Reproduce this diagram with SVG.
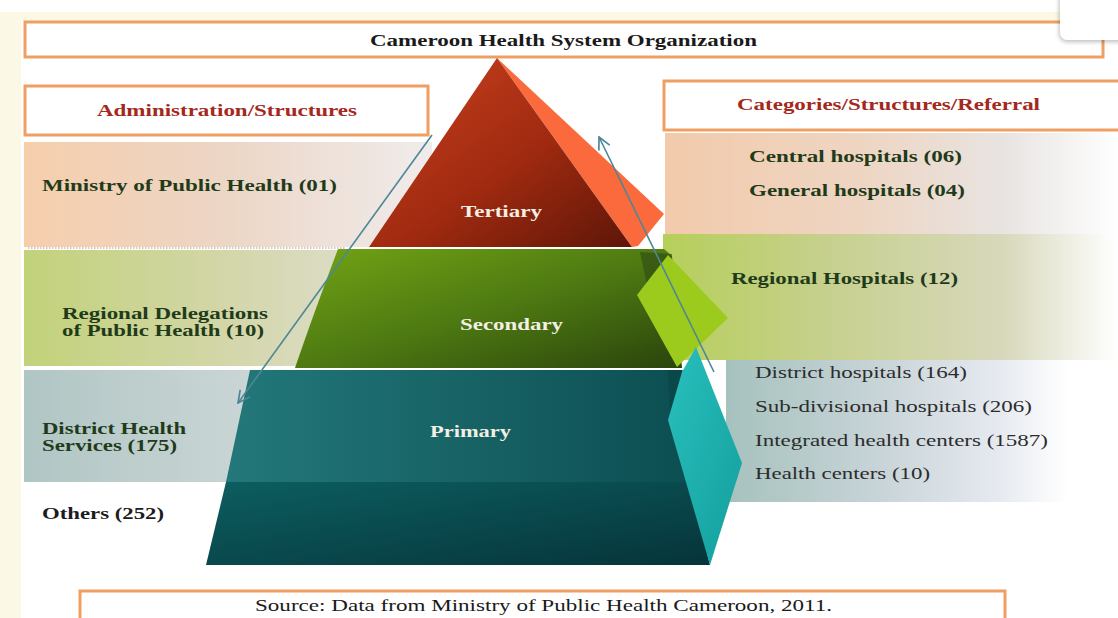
<svg xmlns="http://www.w3.org/2000/svg" width="1118" height="618" viewBox="0 0 1118 618">
  <style>
    .box { fill: #ffffff; stroke: #ef9f62; stroke-width: 3; }
    .hdr { font-family: "Liberation Serif", serif; font-weight: bold; font-size: 16px; }
    .red { fill: #a4281c; }
    .grn { fill: #1f3b1a; font-family: "Liberation Serif", serif; font-weight: bold; font-size: 16px; }
    .reg { fill: #2c2c2c; font-family: "Liberation Serif", serif; font-size: 16px; }
    .tier { fill: #f3efe2; font-family: "Liberation Serif", serif; font-weight: bold; font-size: 16px; }
    .arrow { fill: none; stroke: #4d8796; stroke-width: 1.6; }
  </style>
  <defs>
    <marker id="head" viewBox="0 0 12 12" refX="11" refY="6" markerWidth="9" markerHeight="9" markerUnits="strokeWidth" orient="auto">
      <path d="M1,1 L11,6 L1,11" fill="none" stroke="#4d8796" stroke-width="1.4"/>
    </marker>
    <linearGradient id="gMin" x1="0" y1="0" x2="1" y2="0">
      <stop offset="0" stop-color="#f6ceac"/>
      <stop offset="0.5" stop-color="#ecd6c6"/>
      <stop offset="1" stop-color="#f0ecec"/>
    </linearGradient>
    <linearGradient id="gRegL" x1="0" y1="0" x2="1" y2="0">
      <stop offset="0" stop-color="#c2d27a"/>
      <stop offset="0.6" stop-color="#d2d6a6"/>
      <stop offset="1" stop-color="#dcdcc6"/>
    </linearGradient>
    <linearGradient id="gDisL" x1="0" y1="0" x2="1" y2="0">
      <stop offset="0" stop-color="#b0c6c4"/>
      <stop offset="1" stop-color="#cbd6d6"/>
    </linearGradient>
    <linearGradient id="gCen" x1="0" y1="0" x2="1" y2="0">
      <stop offset="0" stop-color="#f2caab"/>
      <stop offset="0.45" stop-color="#eed6c4"/>
      <stop offset="0.75" stop-color="#e8e4e2"/>
      <stop offset="1" stop-color="#ffffff"/>
    </linearGradient>
    <linearGradient id="gRegR" x1="0" y1="0" x2="1" y2="0">
      <stop offset="0" stop-color="#b6cf5a"/>
      <stop offset="0.35" stop-color="#c6d08c"/>
      <stop offset="0.75" stop-color="#d8d8bc"/>
      <stop offset="1" stop-color="#ffffff"/>
    </linearGradient>
    <linearGradient id="gPriR" x1="0" y1="0" x2="1" y2="0">
      <stop offset="0" stop-color="#a6c2be"/>
      <stop offset="0.45" stop-color="#c8d4d8"/>
      <stop offset="0.8" stop-color="#e6eaf0"/>
      <stop offset="1" stop-color="#ffffff"/>
    </linearGradient>
    <linearGradient id="gTer" x1="0" y1="0" x2="1" y2="1">
      <stop offset="0" stop-color="#cc4220"/>
      <stop offset="0.55" stop-color="#a02a10"/>
      <stop offset="1" stop-color="#5e1608"/>
    </linearGradient>
    <linearGradient id="gSec" x1="0" y1="0" x2="1" y2="1">
      <stop offset="0" stop-color="#72a414"/>
      <stop offset="0.5" stop-color="#4e7a12"/>
      <stop offset="1" stop-color="#2a440c"/>
    </linearGradient>
    <linearGradient id="gPri1" x1="0" y1="0" x2="1" y2="0">
      <stop offset="0" stop-color="#23787a"/>
      <stop offset="1" stop-color="#0c4e52"/>
    </linearGradient>
    <linearGradient id="gPri2" x1="0" y1="0" x2="1" y2="1">
      <stop offset="0" stop-color="#0c5e60"/>
      <stop offset="1" stop-color="#06343a"/>
    </linearGradient>
    <linearGradient id="gCyan" x1="0" y1="0" x2="1" y2="1">
      <stop offset="0" stop-color="#28c0bc"/>
      <stop offset="1" stop-color="#149e9e"/>
    </linearGradient>
    <filter id="shadow" x="-20%" y="-20%" width="140%" height="160%">
      <feDropShadow dx="-1" dy="2" stdDeviation="2" flood-color="#000" flood-opacity="0.25"/>
    </filter>
  </defs>

  <!-- background -->
  <rect x="0" y="0" width="1118" height="618" fill="#ffffff"/>
  <rect x="0" y="12" width="1118" height="9" fill="#fcf8e6"/>
  <rect x="0" y="12" width="21" height="606" fill="#fcf8e6"/>

  <!-- title -->
  <g id="title">
    <rect class="box" x="25" y="22" width="1078" height="35"/>
    <text class="hdr" x="370" y="46" fill="#1a1a1a" textLength="387" lengthAdjust="spacingAndGlyphs">Cameroon Health System Organization</text>
  </g>

  <!-- popup corner -->
  <g id="popup">
    <rect x="1060" y="-12" width="70" height="52" rx="8" fill="#ffffff" filter="url(#shadow)"/>
  </g>

  <!-- headers -->
  <g id="admin-header">
    <rect class="box" x="25" y="86" width="403" height="49"/>
    <text class="hdr red" x="97" y="116" textLength="260" lengthAdjust="spacingAndGlyphs">Administration/Structures</text>
  </g>
  <g id="categories-header">
    <rect class="box" x="664" y="81" width="460" height="49"/>
    <text class="hdr red" x="737" y="110" textLength="303" lengthAdjust="spacingAndGlyphs">Categories/Structures/Referral</text>
  </g>

  <!-- left bands -->
  <g id="ministry">
    <rect x="24" y="142" width="408" height="105" fill="url(#gMin)"/>
    <text class="grn" x="42" y="191" textLength="295" lengthAdjust="spacingAndGlyphs">Ministry of Public Health (01)</text>
  </g>
  <line x1="28" y1="248" x2="345" y2="248" stroke="#a89a80" stroke-width="1" stroke-dasharray="1.5 1.5"/>
  <g id="regional-delegations">
    <rect x="24" y="250" width="320" height="116" fill="url(#gRegL)"/>
    <text class="grn" x="62" y="319" textLength="206" lengthAdjust="spacingAndGlyphs">Regional Delegations</text>
    <text class="grn" x="62" y="336" textLength="202" lengthAdjust="spacingAndGlyphs">of Public Health (10)</text>
  </g>
  <g id="district-services">
    <rect x="24" y="370" width="232" height="112" fill="url(#gDisL)"/>
    <text class="grn" x="42" y="434" textLength="144" lengthAdjust="spacingAndGlyphs">District Health</text>
    <text class="grn" x="42" y="451" textLength="135" lengthAdjust="spacingAndGlyphs">Services (175)</text>
  </g>
  <g id="others">
    <text class="grn" x="42" y="519" fill="#1a1a1a" style="fill:#1c1c1c" textLength="122" lengthAdjust="spacingAndGlyphs">Others (252)</text>
  </g>

  <!-- right bands -->
  <g id="central-general">
    <rect x="665" y="133" width="453" height="101" fill="url(#gCen)"/>
    <text class="grn" x="749" y="162" textLength="213" lengthAdjust="spacingAndGlyphs">Central hospitals (06)</text>
    <text class="grn" x="749" y="196" textLength="216" lengthAdjust="spacingAndGlyphs">General hospitals (04)</text>
  </g>
  <g id="regional-hospitals">
    <rect x="663" y="234" width="455" height="126" fill="url(#gRegR)"/>
    <text class="grn" x="731" y="284" textLength="227" lengthAdjust="spacingAndGlyphs">Regional Hospitals (12)</text>
  </g>
  <g id="primary-structures">
    <rect x="726" y="360" width="342" height="142" fill="url(#gPriR)"/>
    <text class="reg" x="755" y="378" textLength="212" lengthAdjust="spacingAndGlyphs">District hospitals (164)</text>
    <text class="reg" x="755" y="412" textLength="277" lengthAdjust="spacingAndGlyphs">Sub-divisional hospitals (206)</text>
    <text class="reg" x="755" y="446" textLength="293" lengthAdjust="spacingAndGlyphs">Integrated health centers (1587)</text>
    <text class="reg" x="755" y="479" textLength="175" lengthAdjust="spacingAndGlyphs">Health centers (10)</text>
  </g>

  <!-- pyramid -->
  <g id="tertiary">
    <polygon points="497,58 664,214 638,246 632,247" fill="#fb6a3c"/>
    <polygon points="497,58 632,247 369,247" fill="url(#gTer)"/>
    <text class="tier" x="461" y="217" textLength="81" lengthAdjust="spacingAndGlyphs">Tertiary</text>
  </g>
  <g id="secondary">
    <path d="M338,249 L664,249 L672,256 L682,368 L295,368 Q312,318 338,249 Z" fill="url(#gSec)"/>
    <polygon points="640,252 672,254 668,300 648,290" fill="#2f4a14" opacity="0.6"/>
    <polygon points="668,255 728,318 677,367 637,295" fill="#9ccb1e"/>
    <text class="tier" x="460" y="330" textLength="103" lengthAdjust="spacingAndGlyphs">Secondary</text>
  </g>
  <g id="primary">
    <polygon points="250,370 682,370 690,482 226,482" fill="url(#gPri1)"/>
    <polygon points="226,482 690,482 710,565 206,565" fill="url(#gPri2)"/>
    <polygon points="668,370 690,370 686,430 670,412" fill="#0a4446" opacity="0.7"/>
    <polygon points="696,347 742,463 710,565 668,420 682,372" fill="url(#gCyan)"/>
    <text class="tier" x="430" y="437" textLength="81" lengthAdjust="spacingAndGlyphs">Primary</text>
  </g>

  <!-- connectors -->
  <g id="connectors">
    <line class="arrow" x1="432" y1="135" x2="238" y2="403" marker-end="url(#head)"/>
    <line class="arrow" x1="714" y1="372" x2="599" y2="137" marker-end="url(#head)"/>
  </g>

  <!-- source -->
  <g id="source">
    <rect class="box" x="80" y="591" width="925" height="40"/>
    <text class="reg" x="255" y="611" fill="#1a1a1a" style="fill:#1a1a1a" textLength="577" lengthAdjust="spacingAndGlyphs">Source: Data from Ministry of Public Health Cameroon, 2011.</text>
  </g>
</svg>
